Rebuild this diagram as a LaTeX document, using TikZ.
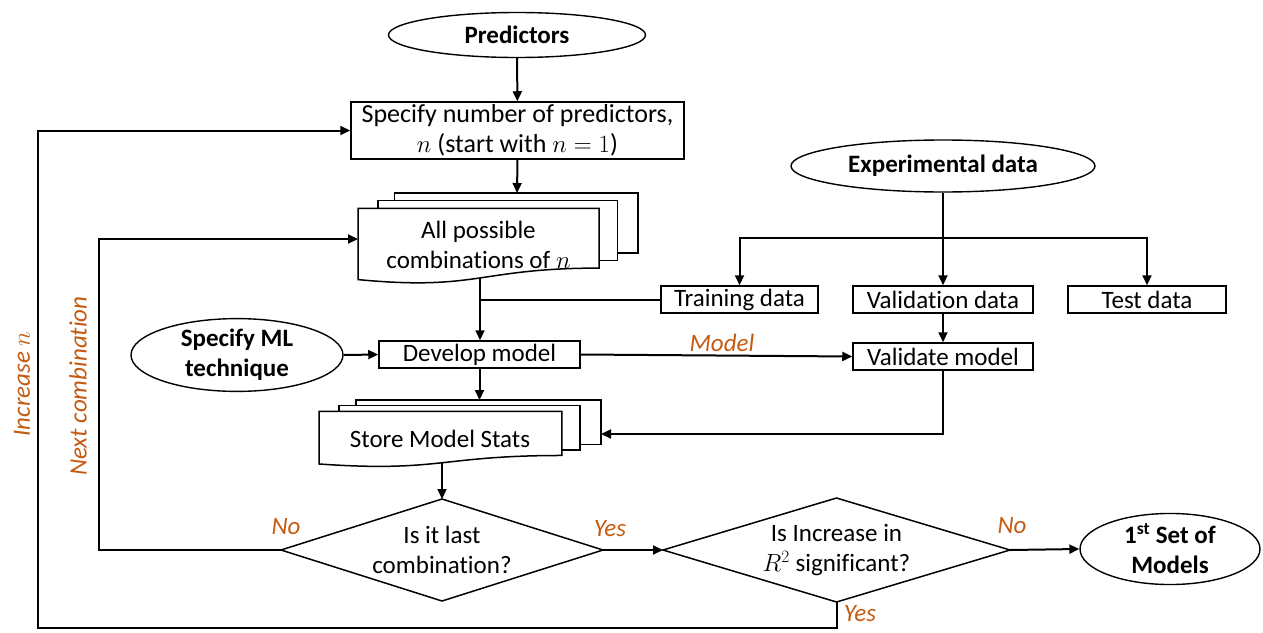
\documentclass[tikz,border=0pt]{standalone}
\usepackage{fontspec}
\setmainfont{Carlito}[Ligatures=NoCommon]
\usetikzlibrary{shapes.geometric,arrows.meta}
\definecolor{lblc}{RGB}{197,90,17}

\newcommand{\multidocshape}[4]{%
  \filldraw[docshape] ({#1+0.1308*#3},{#2}) rectangle ({#1+#3},{#2+0.6663*#4});
  \filldraw[docshape] ({#1+0.0709*#3},{#2+0.0840*#4}) rectangle ({#1+0.9259*#3},{#2+0.7524*#4});
  \filldraw[docshape] (#1,{#2+0.1701*#4}) -- ({#1+0.8609*#3},{#2+0.1701*#4}) -- ({#1+0.8609*#3},{#2+0.8343*#4})
     .. controls ({#1+0.4305*#3},{#2+0.8343*#4}) and ({#1+0.4305*#3},{#2+1.0899*#4}) .. (#1,{#2+0.9621*#4}) -- cycle;}

\tikzset{
 base/.style={font=\fontsize{25}{30}\selectfont, inner sep=0pt, align=center},
 box/.style={base, draw, line width=1.5pt, fill=white},
 oval/.style={base, ellipse, draw, line width=1.4pt, font=\fontsize{25}{30}\selectfont\bfseries},
 diaedge/.style={draw, line width=1.5pt, line join=miter},
 docshape/.style={draw, fill=white, line width=1.5pt},
 conn/.style={line width=2pt},
 arr/.style={conn, -{Triangle[length=10pt,width=9pt]}},
 lbl/.style={font=\fontsize{25}{30}\selectfont\itshape, text=lblc, inner sep=0pt},
}

\begin{document}
\begin{tikzpicture}[x=1pt,y=-1pt]
\useasboundingbox (0,0) rectangle (1263,632);

% nodes
\node[oval, minimum width=257, minimum height=45] (pred) at (517,35) {Predictors};
\node[box, minimum width=333, minimum height=57, font=\fontsize{26}{30}\selectfont] (box1) at (517.5,130.5) {Specify number of predictors,\\ $n$ (start with $n=1$)};

\multidocshape{358}{193}{280}{90}
\node[base] (allc) at (478.5,245) {All possible\\ combinations of $n$};

\node[oval, minimum width=304, minimum height=52] (exp) at (943,166) {Experimental data};
\node[box, minimum width=157, minimum height=27] (train) at (739.5,299.5) {Training data};
\node[box, minimum width=180, minimum height=27] (valid) at (943,299.5) {Validation data};
\node[box, minimum width=158, minimum height=27] (test) at (1147,299.5) {Test data};

\node[oval, minimum width=212, minimum height=60] (ml) at (237,355) {Specify ML\\ technique};
\node[box, minimum width=201, minimum height=27] (dev) at (479.5,354.5) {Develop model};
\node[box, minimum width=180, minimum height=27] (valm) at (943,356.5) {Validate model};

\multidocshape{319}{400}{282}{66.5}
\node[base] (stats) at (440,439) {Store Model Stats};

% decision diamonds
\coordinate (d1l) at (281,550);
\coordinate (d1t) at (442,499);
\coordinate (d1r) at (603,550);
\coordinate (d1b) at (442,601);
\draw[diaedge] (d1l) -- (d1t) -- (d1r) -- (d1b) -- cycle;
\node[base] (d1) at (442,550) {Is it last\\ combination?};

\coordinate (d2l) at (663,550);
\coordinate (d2t) at (836.5,498);
\coordinate (d2r) at (1010,550);
\coordinate (d2b) at (836.5,602);
\draw[diaedge] (d2l) -- (d2t) -- (d2r) -- (d2b) -- cycle;
\node[base] (d2) at (836.5,550) {Is Increase in\\ $R^2$ significant?};

\node[oval, minimum width=180, minimum height=68] (final) at (1170,549) {1\textsuperscript{st} Set of\\ Models};

% helper coordinates
\coordinate (apTop) at (517,193);
\coordinate (apLeft) at (358,239);
\coordinate (apBot) at (480,278);
\coordinate (expj) at (943,238);
\coordinate (tjoin) at (480,299.5);
\coordinate (stTop) at (479.5,400);
\coordinate (stRight) at (601,434);
\coordinate (stBot) at (442,463);
\coordinate (nc) at (99,550);
\coordinate (inc1) at (836.5,628);
\coordinate (inc2) at (38,628);

% connectors
\draw[arr] (pred) -- (box1);
\draw[arr] (box1.south) -- (apTop);
\draw[conn] (exp.south) -- (expj);
\draw[arr] (expj) -| (train.north);
\draw[arr] (expj) -- (valid.north);
\draw[arr] (expj) -| (test.north);
\draw[conn] (train.west) -- (tjoin);
\draw[arr] (apBot) -- (apBot |- dev.north);
\draw[arr] (ml.east) -- (dev.west);
\draw[arr] (dev.east) -- node[lbl, above=3pt, pos=0.52] (lmodel) {Model} (valm.west);
\draw[arr] (valid.south) -- (valm.north);
\draw[arr] (dev.south) -- (stTop);
\draw[arr] (valm.south) |- (stRight);
\draw[arr] (stBot) -- (d1t);
\draw[arr] (d1r) -- (d2l);
\draw[arr] (d2r) -- (final.west);
\draw[arr] (d1l) -- (nc) |- (apLeft);
\draw[arr] (d2b) -- (inc1) -- (inc2) |- (box1.west);

% labels
\node[lbl] (lno1) at (286,527) {No};
\node[lbl] (lyes1) at (610,529) {Yes};
\node[lbl] (lno2) at (1012,526) {No};
\node[lbl] (lyes2) at (860,614) {Yes};
\node[lbl, rotate=90] (linc) at (22,384) {Increase $n$};
\node[lbl, rotate=90] (lnext) at (78,386) {Next combination};
\end{tikzpicture}
\end{document}
